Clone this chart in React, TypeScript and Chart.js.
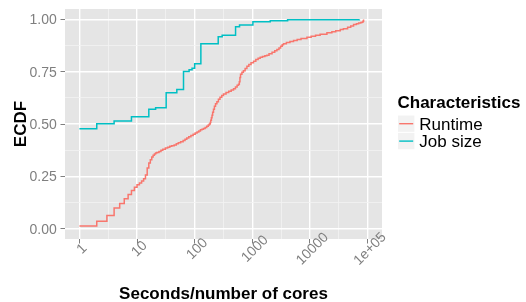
import React, { useEffect, useRef } from 'react';
import { Chart, registerables } from 'chart.js';

Chart.register(...registerables);

// ---- data ----
const runtimeSeconds = [
  1, 2, 3, 4, 5, 6, 7, 8, 9, 10, 11, 12, 13, 14, 15, 16, 17, 18, 19, 20,
  21, 22, 24, 26, 28, 31, 34, 37, 40, 44, 48, 52, 57, 63, 68, 73, 79, 86, 94,
  102, 110, 118, 126, 134, 142, 152, 162, 172, 180, 186, 190, 195, 200, 205,
  212, 220, 230, 243, 258, 275, 295, 316, 350, 390, 430, 472, 510, 545, 576,
  595, 610, 625, 660, 700, 750, 806, 870, 950, 1048, 1150, 1260, 1371, 1500,
  1650, 1791, 1950, 2200, 2450, 2672, 2900, 3100, 3300, 3480, 3900, 4500, 5190,
  6000, 7000, 8870, 10500, 12500, 15000, 19700, 24000, 28000, 33600, 38000,
  45000, 51000, 57100, 64000, 70000, 76000, 80000, 83000, 85200,
];
const runtimeEcdf = [
  0.012, 0.035, 0.062, 0.098, 0.12, 0.142, 0.163, 0.182, 0.198, 0.209, 0.218,
  0.227, 0.238, 0.256, 0.289, 0.313, 0.329, 0.342, 0.351, 0.357,
  0.361, 0.364, 0.369, 0.374, 0.379, 0.385, 0.389, 0.393, 0.396, 0.4, 0.405,
  0.41, 0.415, 0.421, 0.427, 0.433, 0.439, 0.445, 0.451,
  0.457, 0.462, 0.467, 0.472, 0.475, 0.478, 0.483, 0.489, 0.495, 0.5, 0.507,
  0.518, 0.53, 0.542, 0.556,
  0.57, 0.585, 0.597, 0.606, 0.618, 0.628, 0.636, 0.643, 0.651, 0.657, 0.663,
  0.669, 0.677, 0.685, 0.69,
  0.702, 0.722, 0.738, 0.747, 0.755, 0.765, 0.776, 0.785, 0.793, 0.8, 0.808,
  0.814, 0.819, 0.823,
  0.826, 0.829, 0.836, 0.843, 0.85, 0.856, 0.864, 0.872, 0.879, 0.884, 0.89,
  0.895, 0.899,
  0.904, 0.909, 0.915, 0.92, 0.925, 0.929, 0.936, 0.941, 0.946, 0.952, 0.956,
  0.963, 0.969, 0.976, 0.98, 0.983, 0.985, 0.987, 0.991, 1.0,
];
const jobSizeValues = [
  1, 2, 4, 8, 16, 21, 32, 49, 64, 80, 90, 100, 128, 256, 300, 512, 600, 1024,
  2048, 4096, 15000, 72000,
];
const jobSizeEcdf = [
  0.477, 0.501, 0.514, 0.535, 0.571, 0.578, 0.65, 0.665, 0.751, 0.759, 0.767,
  0.788, 0.884, 0.917, 0.925, 0.965, 0.973, 0.989, 0.994, 0.998, 0.999, 1.0,
];

const seriesNames = ['Runtime', 'Job size'];
const seriesColors = ['#F8766D', '#00BFC4'];
const legendTitle = 'Characteristics';
const xTitle = 'Seconds/number of cores';
const yTitle = 'ECDF';

const xTickValues = [1, 10, 100, 1000, 10000, 100000];
const xTickLabels = ['1', '10', '100', '1000', '10000', '1e+05'];
const xMinorValues = [10 ** 0.5, 10 ** 1.5, 10 ** 2.5, 10 ** 3.5, 10 ** 4.5];
const yTickValues = [0, 0.25, 0.5, 0.75, 1];
const yTickLabels = ['0.00', '0.25', '0.50', '0.75', '1.00'];
const yMinorValues = [0.125, 0.375, 0.625, 0.875];

const FONT = '"Liberation Sans", Arial, Helvetica, sans-serif';
const GREY_TEXT = '#7F7F7F';

const isMajorX = (v: number) => xTickValues.some((t) => Math.abs(Math.log10(t) - Math.log10(v)) < 1e-6);
const isMajorY = (v: number) => yTickValues.some((t) => Math.abs(t - v) < 1e-9);

const decorPlugin = {
  id: 'ggDecor',
  beforeDraw(chart: any) {
    const { ctx, chartArea: a } = chart;
    ctx.save();
    ctx.fillStyle = '#E5E5E5';
    ctx.fillRect(a.left, a.top, a.right - a.left, a.bottom - a.top);
    ctx.restore();
  },
  afterDraw(chart: any) {
    const { ctx, chartArea: a, scales } = chart;
    const xs = scales.x;
    const ys = scales.y;
    ctx.save();
    ctx.strokeStyle = GREY_TEXT;
    ctx.fillStyle = GREY_TEXT;
    ctx.lineWidth = 1;

    // y ticks + labels
    ctx.font = `14px ${FONT}`;
    ctx.textAlign = 'right';
    ctx.textBaseline = 'alphabetic';
    yTickValues.forEach((v, i) => {
      const py = ys.getPixelForValue(v);
      const ay = Math.round(py - 0.5) + 0.5;
      ctx.beginPath();
      ctx.moveTo(a.left - 4.5, ay);
      ctx.lineTo(a.left, ay);
      ctx.stroke();
      ctx.fillText(yTickLabels[i], a.left - 8.3, py + 5);
    });

    // x ticks + rotated labels
    xTickValues.forEach((v, i) => {
      const px = xs.getPixelForValue(v);
      const ax = Math.round(px - 0.5) + 0.5;
      ctx.beginPath();
      ctx.moveTo(ax, a.bottom);
      ctx.lineTo(ax, a.bottom + 4.5);
      ctx.stroke();
      ctx.save();
      ctx.translate(px + 2.6, a.bottom + 10);
      ctx.rotate(-Math.PI / 4);
      ctx.textAlign = 'center';
      ctx.textBaseline = 'middle';
      ctx.fillText(xTickLabels[i], 0, 0);
      ctx.restore();
    });

    // axis titles
    ctx.fillStyle = '#000000';
    ctx.font = `bold 17px ${FONT}`;
    ctx.textAlign = 'center';
    ctx.textBaseline = 'alphabetic';
    ctx.fillText(xTitle, (a.left + a.right) / 2, 299);
    ctx.save();
    ctx.translate(26, (a.top + a.bottom) / 2);
    ctx.rotate(-Math.PI / 2);
    ctx.fillText(yTitle, 0, 0);
    ctx.restore();

    // legend
    const lx = 397.5;
    ctx.textAlign = 'left';
    ctx.font = `bold 17px ${FONT}`;
    ctx.fillText(legendTitle, lx, 108.3);
    const keySize = 17.4;
    const keyTop = 115;
    seriesNames.forEach((name, i) => {
      const top = keyTop + i * keySize;
      ctx.fillStyle = '#F2F2F2';
      ctx.fillRect(lx, top, keySize, keySize);
      ctx.strokeStyle = '#FFFFFF';
      ctx.lineWidth = 1;
      ctx.strokeRect(lx, top, keySize, keySize);
      const cy = top + keySize / 2;
      ctx.strokeStyle = seriesColors[i];
      ctx.lineWidth = 1.4;
      ctx.beginPath();
      ctx.moveTo(lx + 1.7, cy);
      ctx.lineTo(lx + keySize - 1.7, cy);
      ctx.stroke();
      ctx.fillStyle = '#000000';
      ctx.font = `17px ${FONT}`;
      ctx.fillText(name, lx + 21.8, cy + 6.2);
    });
    ctx.restore();
  },
};

export default function App() {
  const canvasRef = useRef<HTMLCanvasElement | null>(null);

  useEffect(() => {
    const canvas = canvasRef.current;
    if (!canvas) return;
    const toPoints = (xs: number[], ys: number[]) => xs.map((x, i) => ({ x, y: ys[i] }));
    const chart = new Chart(canvas, {
      type: 'line',
      data: {
        datasets: [
          {
            label: seriesNames[0],
            data: toPoints(runtimeSeconds, runtimeEcdf),
            borderColor: seriesColors[0],
            backgroundColor: seriesColors[0],
            borderWidth: 1.5,
            stepped: true,
            pointRadius: 0,
            fill: false,
          },
          {
            label: seriesNames[1],
            data: toPoints(jobSizeValues, jobSizeEcdf),
            borderColor: seriesColors[1],
            backgroundColor: seriesColors[1],
            borderWidth: 1.5,
            stepped: true,
            pointRadius: 0,
            fill: false,
          },
        ],
      },
      options: {
        animation: false,
        responsive: false,
        maintainAspectRatio: false,
        layout: { padding: { left: 65, top: 9, right: 144, bottom: 63 } },
        plugins: {
          legend: { display: false },
          tooltip: { enabled: false },
        },
        events: [],
        scales: {
          x: {
            type: 'logarithmic',
            min: 10 ** -0.25,
            max: 10 ** 5.25,
            afterBuildTicks: (scale: any) => {
              scale.ticks = [...xTickValues, ...xMinorValues]
                .sort((p, q) => p - q)
                .map((value) => ({ value }));
            },
            ticks: { display: false },
            border: { display: false },
            grid: {
              drawTicks: false,
              color: (c: any) => (isMajorX(c.tick.value) ? '#FFFFFF' : '#F2F2F2'),
              lineWidth: (c: any) => (isMajorX(c.tick.value) ? 1.4 : 0.8),
            },
          },
          y: {
            type: 'linear',
            min: -0.05,
            max: 1.05,
            afterBuildTicks: (scale: any) => {
              scale.ticks = [...yTickValues, ...yMinorValues]
                .sort((p, q) => p - q)
                .map((value) => ({ value }));
            },
            ticks: { display: false },
            border: { display: false },
            grid: {
              drawTicks: false,
              color: (c: any) => (isMajorY(c.tick.value) ? '#FFFFFF' : '#F2F2F2'),
              lineWidth: (c: any) => (isMajorY(c.tick.value) ? 1.4 : 0.8),
            },
          },
        },
      } as any,
      plugins: [decorPlugin],
    });
    return () => chart.destroy();
  }, []);

  return (
    <div style={{ position: 'absolute', left: 0, top: 0, width: 526, height: 302, background: '#FFFFFF' }}>
      <canvas ref={canvasRef} width={526} height={302} style={{ width: 526, height: 302, display: 'block' }} />
    </div>
  );
}
